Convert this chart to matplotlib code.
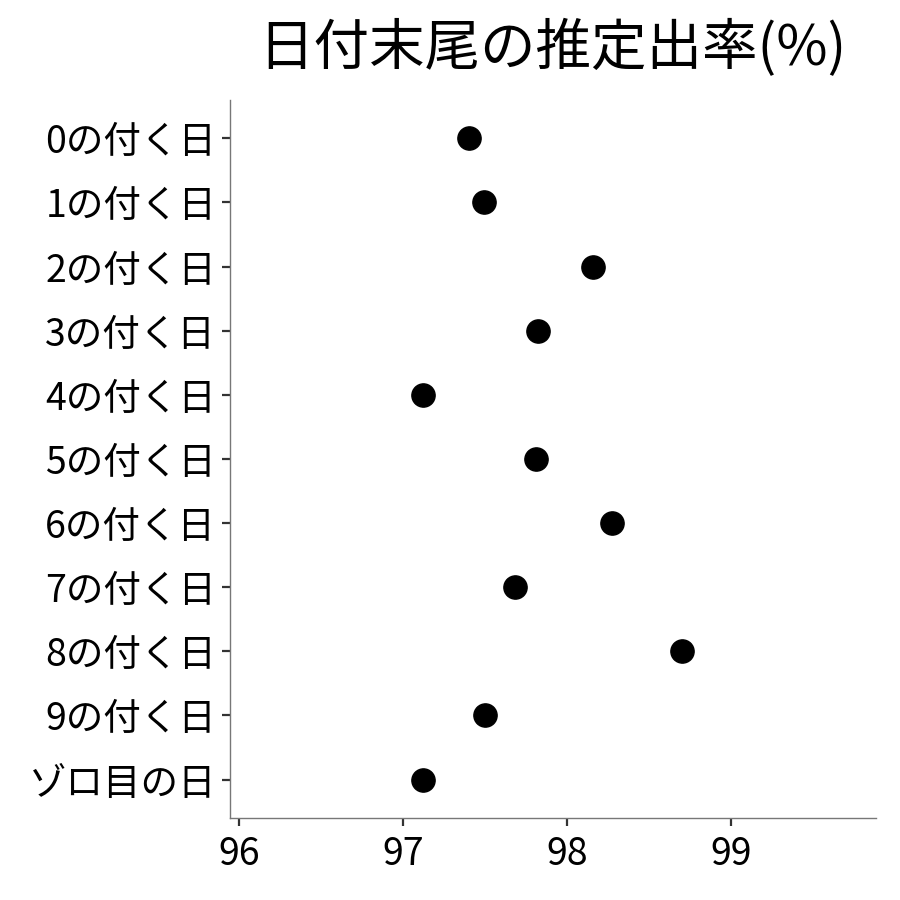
import matplotlib
matplotlib.use('Agg')
import matplotlib.pyplot as plt

plt.rcParams['font.family'] = ['Noto Sans CJK JP', 'DejaVu Sans']

# data
labels = ['0の付く日', '1の付く日', '2の付く日', '3の付く日', '4の付く日',
          '5の付く日', '6の付く日', '7の付く日', '8の付く日', '9の付く日',
          'ゾロ目の日']
rates = [97.40, 97.49, 98.16, 97.82, 97.12, 97.81, 98.27, 97.68, 98.70,
         97.50, 97.12]
xticks = [96, 97, 98, 99]

fig = plt.figure(figsize=(9, 9), dpi=100)
ax = fig.add_axes([0.2556, 0.0911, 0.7174, 0.798])

pos = list(range(len(labels)))
ax.scatter(rates, pos, s=280, color='black', zorder=3)

ax.set_yticks(pos)
ax.set_yticklabels(labels)
ax.set_ylim(len(labels) - 0.4, -0.6)
ax.set_xticks(xticks)
ax.set_xlim(95.945, 99.88)

for side in ['top', 'right']:
    ax.spines[side].set_visible(False)
for side in ['left', 'bottom']:
    ax.spines[side].set_color('#777777')
    ax.spines[side].set_linewidth(1.0)

ax.tick_params(axis='both', labelsize=27, colors='#333333', length=6,
               width=1.6, pad=4)
ax.tick_params(axis='x', pad=6)
ax.tick_params(axis='both', labelcolor='black')

fig.suptitle('日付末尾の推定出率(%)', fontsize=40, x=0.614, y=0.978)

fig.savefig('out.png', dpi=100)
